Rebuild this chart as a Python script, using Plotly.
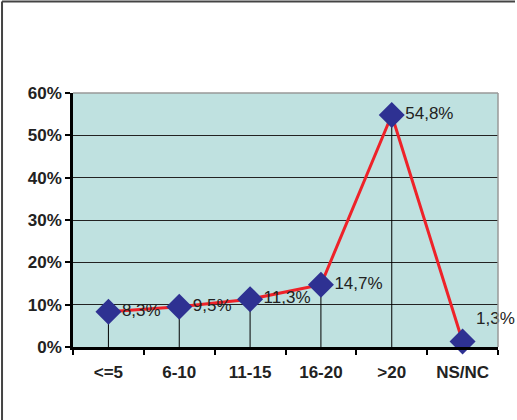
import plotly.graph_objects as go

categories = ["<=5", "6-10", "11-15", "16-20", ">20", "NS/NC"]
values = [8.3, 9.5, 11.3, 14.7, 54.8, 1.3]
labels = ["8,3%", "9,5%", "11,3%", "14,7%", "54,8%", "1,3%"]
label_pos = ["middle right"] * 5 + ["top right"]
y_ticks = [0, 10, 20, 30, 40, 50, 60]
y_tick_text = ["0%", "10%", "20%", "30%", "40%", "50%", "60%"]

fig = go.Figure()

# vertical drop lines from each point to the axis
drop_x, drop_y = [], []
for c, v in zip(categories, values):
    drop_x += [c, c, None]
    drop_y += [0, v, None]
fig.add_trace(go.Scatter(x=drop_x, y=drop_y, mode="lines",
                         line=dict(color="black", width=1), hoverinfo="skip",
                         showlegend=False))

fig.add_trace(go.Scatter(
    x=categories, y=values, mode="lines+markers+text",
    line=dict(color="#EE2229", width=3),
    marker=dict(symbol="diamond", size=20, color="#2E3192"),
    text=labels, textposition=label_pos, cliponaxis=False,
    textfont=dict(family="Liberation Sans, Arial", size=17, color="#222222"),
    showlegend=False,
))

fig.update_layout(
    width=517, height=420,
    margin=dict(l=73, r=19, t=93, b=73),
    paper_bgcolor="white",
    plot_bgcolor="#BFE1E0",
    font=dict(family="Liberation Sans, Arial", color="#222222"),
    shapes=[
        # outer frame
        dict(type="line", xref="paper", yref="paper", x0=-0.167, x1=1.04,
             y0=1.36, y1=1.36, line=dict(color="#444444", width=2)),
        dict(type="line", xref="paper", yref="paper", x0=-0.167, x1=-0.167,
             y0=1.36, y1=-0.3, line=dict(color="#444444", width=2)),
        # plot area top/right border
        dict(type="line", xref="paper", yref="paper", x0=0, x1=1, y0=1, y1=1,
             line=dict(color="#999999", width=1.5)),
        dict(type="line", xref="paper", yref="paper", x0=1, x1=1, y0=0, y1=1,
             line=dict(color="#999999", width=1.5)),
    ],
)

fig.update_xaxes(
    type="category", categoryorder="array", categoryarray=categories,
    range=[-0.5, 5.5], tickson="boundaries", ticks="outside", ticklen=5,
    tickwidth=2, tickcolor="black", showline=True, linecolor="black",
    linewidth=2.5, showgrid=False,
    tickfont=dict(family="Liberation Sans, Arial", size=17, color="#222222",
                  weight="bold"),
    ticklabelstandoff=8,
)
fig.update_yaxes(
    range=[0, 60], tickvals=y_ticks, ticktext=y_tick_text, ticks="outside",
    ticklen=5, tickwidth=2, tickcolor="black", showline=True,
    linecolor="black", linewidth=2.5, showgrid=True, gridcolor="#222222",
    gridwidth=1, zeroline=False,
    tickfont=dict(family="Liberation Sans, Arial", size=17, color="#222222",
                  weight="bold"),
)

fig.write_html("out.html")
